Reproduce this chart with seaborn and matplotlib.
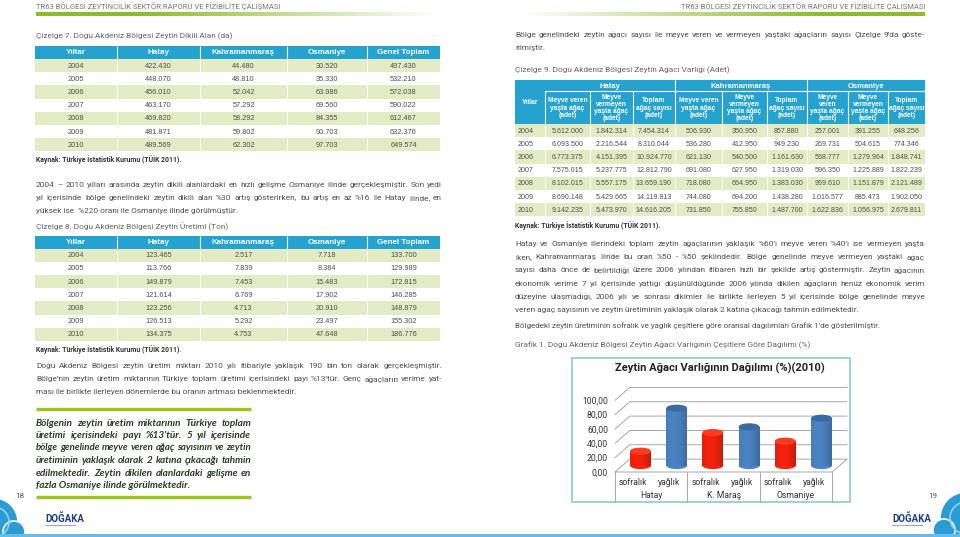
import numpy as np
import pandas as pd
import seaborn as sns
import matplotlib.pyplot as plt
import matplotlib.transforms as mtransforms
from matplotlib.patches import Rectangle, Ellipse, Circle

sns.set_theme(style="white")
plt.rcParams["font.family"] = ["Roboto", "DejaVu Sans"]

# ---------------- data ----------------
years = [2004, 2005, 2006, 2007, 2008, 2009, 2010]

# Çizelge 7 - dikili alan (da)
alan_hatay = [422430, 448070, 456010, 463170, 469820, 481871, 489569]
alan_kmaras = [44480, 48810, 52042, 57292, 58292, 59802, 62302]
alan_osmaniye = [30520, 35330, 63986, 69560, 84355, 90703, 97703]
alan_toplam = [497430, 532210, 572038, 590022, 612467, 632376, 649574]

# Çizelge 8 - zeytin üretimi (ton)
uretim_hatay = [123465, 113766, 149879, 121614, 123256, 126513, 134375]
uretim_kmaras = [2517, 7839, 7453, 6769, 4713, 5292, 4753]
uretim_osmaniye = [7718, 8384, 15483, 17902, 20910, 23497, 47648]
uretim_toplam = [133700, 129989, 172815, 146285, 148879, 155302, 186776]

# Çizelge 9 - zeytin ağacı varlığı (adet)
hatay_veren = [5612000, 6093500, 6773375, 7575015, 8102015, 8690148, 9142235]
hatay_vermeyen = [1842314, 2216544, 4151395, 5237775, 5557175, 5429665, 5473970]
hatay_toplam = [7454314, 8310044, 10924770, 12812790, 13659190, 14119813, 14616205]
kmaras_veren = [506930, 536280, 621130, 691080, 718080, 744080, 731850]
kmaras_vermeyen = [350950, 412950, 540500, 627950, 664950, 694200, 755850]
kmaras_toplam = [857880, 949230, 1161630, 1319030, 1383030, 1438280, 1487700]
osmaniye_veren = [257001, 269731, 568777, 596350, 969610, 1016577, 1622836]
osmaniye_vermeyen = [391255, 504615, 1279964, 1225889, 1151879, 885473, 1056975]
osmaniye_toplam = [648256, 774346, 1848741, 1822239, 2121489, 1902050, 2679811]

# Grafik 1 - çeşitlere göre dağılım (%) 2010
provinces = ["Hatay", "K. Maraş", "Osmaniye"]
kinds = ["sofralık", "yağlık"]
sofralik = [20, 46, 34]
yaglik = [80, 54, 66]
pct_ticks = [0, 20, 40, 60, 80, 100]

# ---------------- text ----------------
p1 = ["2004 – 2010 yılları arasında zeytin dikili alanlardaki en hızlı gelişme Osmaniye ilinde gerçekleşmiştir. Son yedi",
      "yıl içerisinde bölge genelindeki zeytin dikili alan %30 artış gösterirken, bu artış en az %16 ile Hatay ilinde, en",
      "yüksek ise  %220 oranı ile Osmaniye ilinde görülmüştür."]
p2 = ["Doğu Akdeniz Bölgesi zeytin üretim miktarı 2010 yılı itibariyle yaklaşık 190 bin ton olarak gerçekleşmiştir.",
      "Bölge’nin zeytin üretim miktarının Türkiye toplam üretimi içerisindeki payı %13’tür. Genç ağaçların verime yat-",
      "ması ile birlikte ilerleyen dönemlerde bu oranın artması beklenmektedir."]
box = ["Bölgenin zeytin üretim miktarının Türkiye toplam",
       "üretimi içerisindeki payı %13’tür. 5 yıl içerisinde",
       "bölge genelinde meyve veren ağaç sayısının ve zeytin",
       "üretiminin yaklaşık olarak 2 katına çıkacağı tahmin",
       "edilmektedir. Zeytin dikilen alanlardaki gelişme en",
       "fazla Osmaniye ilinde görülmektedir."]
p0 = ["Bölge genelindeki zeytin ağacı sayısı ile meyve veren ve vermeyen yaştaki ağaçların sayısı Çizelge 9’da göste-",
      "rilmiştir."]
p3 = ["Hatay ve Osmaniye illerindeki toplam zeytin ağaçlarının yaklaşık %60’ı meyve veren %40’ı ise vermeyen yaşta",
      "iken, Kahramanmaraş ilinde bu oran %50 - %50 şeklindedir. Bölge genelinde meyve vermeyen yaştaki ağaç",
      "sayısı daha önce de belirtildiği üzere 2006 yılından itibaren hızlı bir şekilde artış göstermiştir. Zeytin ağacının",
      "ekonomik verime 7 yıl içerisinde yattığı düşünüldüğünde 2006 yılında dikilen ağaçların henüz ekonomik verim",
      "düzeyine ulaşmadığı, 2006 yılı ve sonrası dikimler ile birlikte ilerleyen 5 yıl içerisinde bölge genelinde meyve",
      "veren ağaç sayısının ve zeytin üretiminin yaklaşık olarak 2 katına çıkacağı tahmin edilmektedir."]
p4 = "Bölgedeki zeytin üretiminin sofralık ve yağlık çeşitlere göre oransal dağılımları Grafik 1’de gösterilmiştir."
grafik_title = "Grafik 1. Doğu Akdeniz Bölgesi Zeytin Ağacı Varlığının Çeşitlere Göre Dağılımı (%)"

# ---------------- colours / helpers ----------------
HEAD = "#25a3d0"
ROW = "#e2ebc3"
TXT = "#505050"
TFONT = ["Liberation Sans", "DejaVu Sans"]
BODY_FONT = ["Roboto", "DejaVu Sans"]
BOX_FONT = ["Lato", "DejaVu Sans"]


def tr(n):
    return f"{n:,}".replace(",", ".")


fig = plt.figure(figsize=(9.6, 5.37), dpi=100)
page = fig.add_axes([0, 0, 1, 1])
renderer = fig.canvas.get_renderer()


def line_fit(ln, width, **kw):
    """font size at which the line is exactly `width` pixels wide"""
    a = page.text(0, 0, ln, fontsize=10, **kw)
    s = 10 * width / a.get_window_extent(renderer).width
    a.remove()
    return s


def paragraph(x0, x1, y0, lh, lines, fontsize, justify_last=False, **kw):
    for i, line in enumerate(lines):
        y = y0 + i * lh
        words = line.split()
        last = i == len(lines) - 1 and not justify_last
        if last or len(words) < 2:
            page.text(x0, y, line, va="center", ha="left", fontsize=fontsize, **kw)
            continue
        size = min(fontsize, 0.99 * line_fit(line, x1 - x0, **kw))
        arts = [page.text(x0, y, w, va="center", ha="left", fontsize=size, **kw)
                for w in words]
        widths = [a.get_window_extent(renderer).width for a in arts]
        gap = (x1 - x0 - sum(widths)) / (len(words) - 1)
        x = x0
        for a, w in zip(arts, widths):
            a.set_x(x)
            x += w + gap


def table(top, bounds, head_h, row_h, header, cols):
    x0, x1 = bounds[0], bounds[-1]
    page.add_patch(Rectangle((x0, top), x1 - x0, head_h, color=HEAD, lw=0))
    for i, lab in enumerate(header):
        page.text((bounds[i] + bounds[i + 1]) / 2, top + head_h / 2 + 0.5, lab,
                  color="white", weight="bold", ha="center", va="center",
                  fontsize=5.8, family=TFONT)
    for r in range(len(years)):
        y = top + head_h + r * row_h
        if r % 2 == 0:
            page.add_patch(Rectangle((x0, y), x1 - x0, row_h, color=ROW, lw=0))
        for c, col in enumerate(cols):
            page.text((bounds[c] + bounds[c + 1]) / 2, y + row_h / 2 + 0.5, col[r],
                      color=TXT, ha="center", va="center", fontsize=5.3, family=TFONT)
    bottom = top + head_h + len(years) * row_h
    page.vlines(bounds[1:-1], top, bottom, color="white", lw=0.8)


body_fits = [line_fit(ln, w, family=BODY_FONT)
             for w, lines in [(406, p1), (406, p2), (410, p0), (410, p3)] for ln in lines[:-1]]
BODY_SIZE = float(np.median(body_fits)) * 0.965
BOX_SIZE = float(np.median([line_fit(ln, 215, family=BOX_FONT, weight="bold", style="italic")
                            for ln in box[:-1]])) * 0.975
TITLE_SIZE = line_fit("Çizelge 7. Doğu Akdeniz Bölgesi Zeytin Dikili Alan (da)", 198,
                      family=BODY_FONT)
KAY_SIZE = line_fit("Kaynak: Türkiye İstatistik Kurumu (TÜİK 2011).", 147,
                    family=BODY_FONT, weight="bold")


# ---------------- page decoration ----------------
def fade(x0, x1, y0, y1, reverse=False):
    n = 200
    prof = np.clip((1 - np.linspace(0, 1, n)) / 0.75, 0, 1)
    if reverse:
        prof = prof[::-1]
    img = np.zeros((1, n, 4))
    img[..., 0], img[..., 1], img[..., 2] = 0.55, 0.74, 0.16
    img[..., 3] = prof
    page.imshow(img, extent=(x0, x1, y1, y0), aspect="auto", interpolation="bilinear")


fade(36, 440, 12.5, 16.5)
fade(520, 925, 12.5, 16.5, reverse=True)
hdr = "TR63 BÖLGESİ ZEYTİNCİLİK SEKTÖR RAPORU VE FİZİBİLİTE ÇALIŞMASI"
HDR_SIZE = line_fit(hdr, 243, family=BODY_FONT)
page.text(36, 6, hdr, fontsize=HDR_SIZE, color="#777777", va="center", ha="left", family=BODY_FONT)
page.text(925, 6, hdr, fontsize=HDR_SIZE, color="#777777", va="center", ha="right", family=BODY_FONT)

# left cloud + right cloud + bottom band
for (cx, cy, r, c) in [(-6, 522, 24, "#2b9bd6"), (14, 532, 11, "#2b9bd6"),
                       (966, 518, 26, "#2b9bd6"), (944, 530, 11, "#2b9bd6")]:
    page.add_patch(Circle((cx, cy), r, fc=c, ec="white", lw=1.2))
page.add_patch(Circle((-6, 522), 15, fill=False, ec="#8fd3f0", lw=1.2))
page.add_patch(Circle((966, 518), 16, fill=False, ec="#8fd3f0", lw=1.2))
page.add_patch(Rectangle((0, 533.5), 960, 3.5, fc="#63bde6", lw=0))

page.text(20, 496, "18", fontsize=5.8, color="#555555", ha="center", va="center")
page.text(933, 496, "19", fontsize=5.8, color="#555555", ha="center", va="center")
for lx in (45, 892):
    page.text(lx, 519, "DOĞAKA", fontsize=7, weight="bold", color="#1d3f8a",
              ha="left", va="center", family=["Roboto", "DejaVu Sans"])
    page.plot([lx, lx + 30], [525, 525], color="#9aa8c8", lw=0.8)

body = dict(fontsize=BODY_SIZE, color=TXT, family=BODY_FONT)
title_kw = dict(fontsize=TITLE_SIZE, color="#666666", va="center", family=BODY_FONT)
kaynak = "Kaynak: Türkiye İstatistik Kurumu (TÜİK 2011)."
kay_kw = dict(fontsize=KAY_SIZE, color="#333333", weight="bold", va="center",
              family=BODY_FONT)

# ---------------- left page ----------------
page.text(36, 36, "Çizelge 7. Doğu Akdeniz Bölgesi Zeytin Dikili Alan (da)", **title_kw)
col_b = [35, 117, 200, 287, 367, 440]
header5 = ["Yıllar", "Hatay", "Kahramanmaraş", "Osmaniye", "Genel Toplam"]
table(46, col_b, 13, 13.2, header5,
      [[str(y) for y in years], [tr(v) for v in alan_hatay], [tr(v) for v in alan_kmaras],
       [tr(v) for v in alan_osmaniye], [tr(v) for v in alan_toplam]])
page.text(36, 160, kaynak, **kay_kw)

paragraph(36, 442, 185, 13.2, p1, **body)

page.text(36, 227, "Çizelge 8. Doğu Akdeniz Bölgesi Zeytin Üretimi (Ton)", **title_kw)
table(235.5, col_b, 13, 13.2, header5,
      [[str(y) for y in years], [tr(v) for v in uretim_hatay], [tr(v) for v in uretim_kmaras],
       [tr(v) for v in uretim_osmaniye], [tr(v) for v in uretim_toplam]])
page.text(36, 350, kaynak, **kay_kw)

paragraph(36, 442, 366, 13.2, p2, **body)

page.plot([36, 251], [408.5, 408.5], color="#9cc41e", lw=2.4, solid_capstyle="butt")
page.plot([36, 251], [496.5, 496.5], color="#9cc41e", lw=2.4, solid_capstyle="butt")
paragraph(36, 251, 423, 12.5, box, fontsize=BOX_SIZE, color="#233f1b", weight="bold",
          style="italic", family=BOX_FONT)

# ---------------- right page ----------------
paragraph(515, 925, 35, 13.2, p0, **body)
page.text(515, 70, "Çizelge 9. Doğu Akdeniz Bölgesi Zeytin Ağacı Varlığı (Adet)", **title_kw)

b9 = [515, 545, 590, 633, 675, 722, 767, 807, 848, 888, 925]
t9_top, h1, h2, rh = 80, 11, 33, 13.2
page.add_patch(Rectangle((b9[0], t9_top), b9[-1] - b9[0], h1 + h2, color=HEAD, lw=0))
for lab, (a, b) in zip(["Hatay", "Kahramanmaraş", "Osmaniye"], [(1, 4), (4, 7), (7, 10)]):
    page.text((b9[a] + b9[b]) / 2, t9_top + h1 / 2 + 0.5, lab, color="white", weight="bold",
              ha="center", va="center", fontsize=5.5, family=TFONT)
sub = ["Meyve veren\nyaşta ağaç\n(adet)", "Meyve\nvermeyen\nyaşta ağaç\n(adet)",
       "Toplam\nağaç sayısı\n(adet)"]
sub_os = ["Meyve\nveren\nyaşta ağaç\n(adet)", "Meyve\nvermeyen\nyaşta ağaç\n(adet)",
          "Toplam\nağaç sayısı\n(adet)"]
heads9 = ["Yıllar"] + sub + sub + sub_os
for i, lab in enumerate(heads9):
    yc = t9_top + h1 + h2 / 2 if i else t9_top + (h1 + h2) / 2
    page.text((b9[i] + b9[i + 1]) / 2, yc + 0.5, lab, color="white", weight="bold",
              ha="center", va="center", fontsize=4.8, family=TFONT, linespacing=1.05)
cols9 = [hatay_veren, hatay_vermeyen, hatay_toplam, kmaras_veren, kmaras_vermeyen,
         kmaras_toplam, osmaniye_veren, osmaniye_vermeyen, osmaniye_toplam]
for r, yr in enumerate(years):
    y = t9_top + h1 + h2 + r * rh
    if r % 2 == 0:
        page.add_patch(Rectangle((b9[0], y), b9[-1] - b9[0], rh, color=ROW, lw=0))
    page.text(b9[0] + 3, y + rh / 2 + 0.5, str(yr), color=TXT, ha="left", va="center",
              fontsize=5.1, family=TFONT)
    for c, col in enumerate(cols9):
        page.text((b9[c + 1] + b9[c + 2]) / 2, y + rh / 2 + 0.5, tr(col[r]), color=TXT,
                  ha="center", va="center", fontsize=5.1, family=TFONT)
t9_bottom = t9_top + h1 + h2 + len(years) * rh
page.vlines([b9[4], b9[7]], t9_top, t9_bottom, color="white", lw=0.8)
page.vlines([b9[1], b9[2], b9[3], b9[5], b9[6], b9[8], b9[9]], t9_top + h1, t9_bottom,
            color="white", lw=0.8)
page.hlines(t9_top + h1, b9[1], b9[-1], color="white", lw=0.8)
page.text(515, 226, kaynak, **kay_kw)

paragraph(515, 925, 244, 13.2, p3, **body)
page.text(515, 326, p4, va="center", fontsize=min(BODY_SIZE, line_fit(p4, 367, family=BODY_FONT)),
          color=TXT, family=BODY_FONT)
page.text(515, 345, grafik_title, va="center",
          fontsize=min(BODY_SIZE, line_fit(grafik_title, 330, family=BODY_FONT)),
          color="#666666", family=BODY_FONT)

# chart frame and title
page.add_patch(Rectangle((572, 358), 278, 144, fill=False, ec="#92cfdc", lw=1.3))
page.text(720, 368, "Zeytin Ağacı Varlığının Dağılımı (%)(2010)", fontsize=8, weight="bold",
          color="#222222", ha="center", va="center")

page.set_xlim(0, 960)
page.set_ylim(537, 0)
page.axis("off")

# ---------------- chart ----------------
dx, dy = 0.41, 18          # pseudo 3D depth (data units)
base = dy / 2
cax = fig.add_axes([615 / 960, 65 / 537, 232 / 960, 86 / 537])
cax.set_facecolor("none")

chart = pd.DataFrame({
    "il": np.repeat(provinces, 2),
    "tür": kinds * len(provinces),
    "oran": [v for pair in zip(sofralik, yaglik) for v in pair],
})
chart["pos"] = np.arange(len(chart)) + dx / 2
body_col = {"sofralık": "#f4220e", "yağlık": "#4b84c3"}
cap_col = {"sofralık": "#ff3a22", "yağlık": "#3a6aa6"}
sns.barplot(data=chart, x="pos", y="oran", hue="tür", palette=body_col, native_scale=True,
            width=0.58, dodge=False, legend=False, saturation=1, errorbar=None, ax=cax)

shade = np.zeros((1, 60, 4))
u = np.linspace(0, 1, 60)
shade[..., 3] = 0.38 * np.abs(u - 0.35) ** 1.6
for p, kind in zip(list(cax.patches), [k for k in kinds for _ in provinces]):
    w, h = p.get_width(), p.get_height()
    x0 = p.get_x()
    p.set_y(base)
    p.set_linewidth(0)
    p.set_zorder(2)
    cax.add_patch(Ellipse((x0 + w / 2, base), w, 10, fc=body_col[kind], lw=0, zorder=1.9))
    cax.imshow(shade, extent=(x0, x0 + w, base, base + h), aspect="auto", zorder=2.1,
               interpolation="bilinear")
    cax.add_patch(Ellipse((x0 + w / 2, base + h), w, 10, fc=cap_col[kind], lw=0, zorder=2.2))

for t in pct_ticks:
    cax.plot([-0.5, -0.5 + dx, 5.5 + dx], [t, t + dy, t + dy], color="#9a9a9a", lw=0.6,
             zorder=0.5, clip_on=False)
cax.plot([-0.5, 5.5, 5.5 + dx], [0, 0, dy], color="#9a9a9a", lw=0.6, zorder=0.5, clip_on=False)

cax.set_xlim(-0.5, 5.5 + dx)
cax.set_ylim(0, 120)
cax.set_yticks(pct_ticks, labels=[f"{t:.2f}".replace(".", ",") for t in pct_ticks])
cax.set_xticks([])
cax.tick_params(axis="y", length=0, pad=5, labelsize=6.2, labelcolor="#333333")
cax.set_xlabel("")
cax.set_ylabel("")
for s in cax.spines.values():
    s.set_visible(False)

trans = mtransforms.blended_transform_factory(cax.transData, cax.transAxes)
for i, kind in enumerate(chart["tür"]):
    cax.text(i, -0.12, kind, transform=trans, ha="center", va="center", fontsize=6.2,
             color="#333333")
for g, il in enumerate(provinces):
    cax.text(2 * g + 0.5, -0.27, il, transform=trans, ha="center", va="center", fontsize=6.2,
             color="#333333")
for b in [-0.5, 1.5, 3.5, 5.5]:
    cax.plot([b, b], [0, -0.35], transform=trans, color="#9a9a9a", lw=0.6, clip_on=False)

fig.savefig("out.png", dpi=100, facecolor="white")
